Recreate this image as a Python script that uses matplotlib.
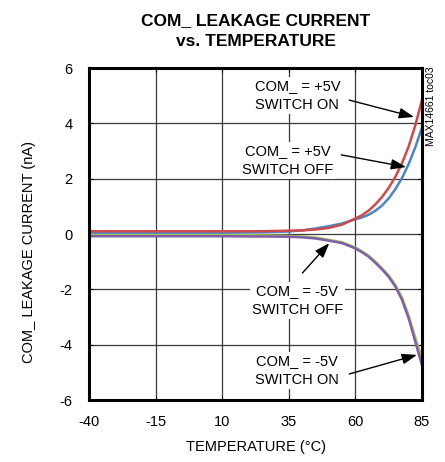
import numpy as np
import matplotlib
matplotlib.use("Agg")
import matplotlib.pyplot as plt

plt.rcParams['font.family'] = ['Liberation Sans', 'DejaVu Sans']
plt.rcParams['axes.unicode_minus'] = False

# temperature (°C) and leakage current (nA)
temp = [-40, -15, 10, 25, 35, 40, 45, 50, 55, 60, 62.5, 65, 67.5, 70,
        72.5, 75, 77.5, 80, 82.5, 85]
pos_on = [0.10, 0.10, 0.10, 0.10, 0.12, 0.13, 0.16, 0.22, 0.34, 0.56, 0.68,
          0.85, 1.07, 1.34, 1.67, 2.07, 2.56, 3.17, 3.93, 4.85]
pos_off = [0.05, 0.05, 0.05, 0.06, 0.09, 0.13, 0.20, 0.28, 0.38, 0.53, 0.60,
           0.70, 0.84, 1.03, 1.29, 1.62, 2.03, 2.53, 3.14, 3.85]
neg_off = [-0.03, -0.03, -0.03, -0.05, -0.07, -0.09, -0.13, -0.21, -0.30,
           -0.49, -0.63, -0.79, -1.00, -1.24, -1.50, -1.84, -2.30, -2.95,
           -3.75, -4.50]
neg_on = [-0.08, -0.08, -0.08, -0.09, -0.10, -0.12, -0.16, -0.24, -0.33,
          -0.52, -0.66, -0.82, -1.04, -1.28, -1.55, -1.90, -2.38, -3.05,
          -3.90, -4.75]

xticks = [-40, -15, 10, 35, 60, 85]
yticks = [-6, -4, -2, 0, 2, 4, 6]

fig = plt.figure(figsize=(4.45, 4.62), dpi=100)
ax = fig.add_axes([89 / 445, 1 - 400 / 462, 333 / 445, 332 / 462])

ax.plot(temp, neg_off, color='#a9c24f', lw=1.8, zorder=3)
ax.plot(temp, neg_on, color='#7f5ea8', lw=1.8, zorder=3)
ax.plot(temp, pos_off, color='#4a85c9', lw=1.8, zorder=3)
ax.plot(temp, pos_on, color='#cf4a4c', lw=1.8, zorder=4)

ax.set_xlim(-40, 85)
ax.set_ylim(-6, 6)
ax.set_xticks(xticks)
ax.set_yticks(yticks)
ax.grid(True, color='#3a3a3a', lw=0.9, zorder=1)
ax.set_axisbelow(True)
for s in ax.spines.values():
    s.set_linewidth(2.2)
    s.set_zorder(5)
ax.tick_params(direction='in', length=3, width=0.8, top=True, right=True,
               labelsize=10.5)
ax.tick_params(axis='x', pad=11)
ax.tick_params(axis='y', pad=12)

ax.set_xlabel('TEMPERATURE (°C)', fontsize=10.5, labelpad=8)
ax.set_ylabel('COM_ LEAKAGE CURRENT (nA)', fontsize=10.5)
ax.yaxis.set_label_coords(-0.16, 0.446)
ax.set_title('COM_ LEAKAGE CURRENT\nvs. TEMPERATURE', fontsize=12.5,
             fontweight='bold', pad=16, linespacing=1.5)

box = dict(fc='white', ec='none', pad=1.5)
labels = [
    ('COM_ = +5V\nSWITCH ON', (38.2, 4.99), (57.7, 4.84), (82.0, 4.23)),
    ('COM_ = +5V\nSWITCH OFF', (34.5, 2.67), (54.7, 2.86), (79.0, 2.42)),
    ('COM_ = -5V\nSWITCH OFF', (38.2, -2.39), (40.1, -1.41), (50.2, -0.33)),
    ('COM_ = -5V\nSWITCH ON', (38.2, -4.95), (57.7, -5.06), (83.1, -4.37)),
]
for txt, pos, start, end in labels:
    ax.text(pos[0], pos[1], txt, ha='center', va='center', fontsize=10.5,
            linespacing=1.45, bbox=box, zorder=2)
    ax.annotate('', xy=end, xytext=start, zorder=6,
                arrowprops=dict(arrowstyle='-|>,head_length=0.9,head_width=0.32',
                                color='black', lw=1.0, shrinkA=0, shrinkB=0))

fig.text(431 / 445, 1 - 66 / 462, 'MAX14661 toc03', rotation=90, ha='center',
         va='top', fontsize=7.5)

fig.savefig('out.png', dpi=100)
